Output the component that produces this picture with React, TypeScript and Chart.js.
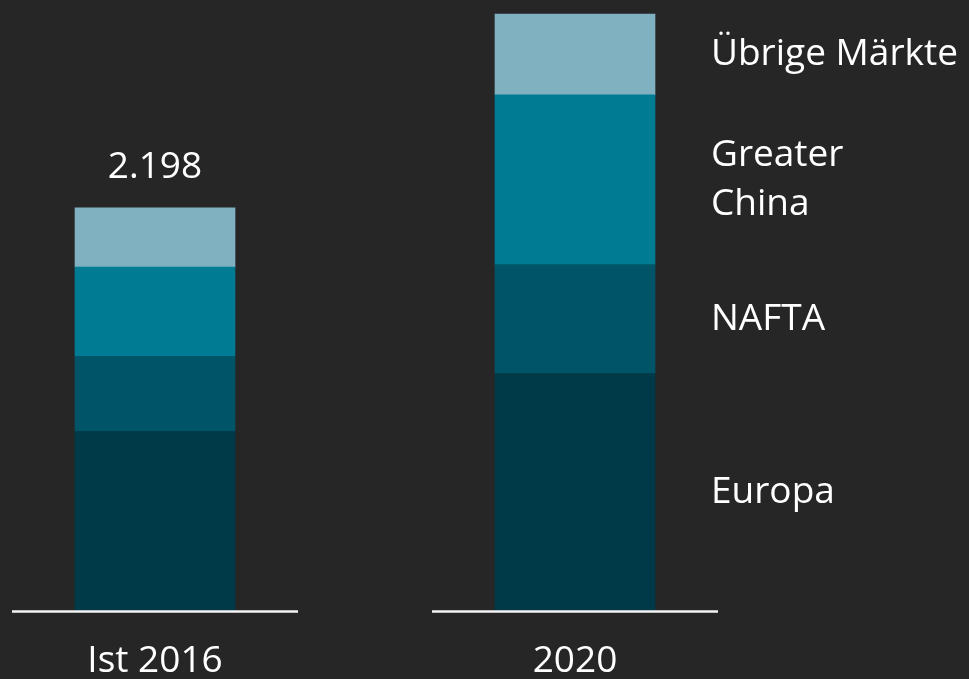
import React, { useEffect, useRef } from 'react';
import { Chart, registerables } from 'chart.js';

Chart.register(...registerables);

const categories = ['Ist 2016', '2020'];
const europa = [980, 1296];
const nafta = [410, 593];
const greaterChina = [485, 924];
const uebrigeMaerkte = [323, 441];
const totalLabels = ['2.198', ''];
const seriesLabels = [['Europa'], ['NAFTA'], ['Greater', 'China'], ['Übrige Märkte']];
const seriesColors = ['#003947', '#005468', '#007b94', '#7fb1c1'];

const FONT = '"Open Sans", "Noto Sans", sans-serif';
const FONT_SIZE = 37;
const BG = '#262626';
const TEXT = '#ffffff';

const overlay = {
  id: 'overlay',
  afterDatasetsDraw(chart: any) {
    const ctx = chart.ctx as CanvasRenderingContext2D;
    const xs = chart.scales.x;
    const ys = chart.scales.y;
    const y0 = ys.getPixelForValue(0);
    ctx.save();
    categories.forEach((cat, i) => {
      const cx = xs.getPixelForValue(i);
      ctx.strokeStyle = '#f4f4f4';
      ctx.lineWidth = 2.5;
      ctx.beginPath();
      ctx.moveTo(cx - 143, y0);
      ctx.lineTo(cx + 143, y0);
      ctx.stroke();
      ctx.fillStyle = TEXT;
      ctx.font = `${FONT_SIZE}px ${FONT}`;
      ctx.textAlign = 'center';
      ctx.textBaseline = 'middle';
      ctx.fillText(cat, cx, y0 + 50);
      const total = europa[i] + nafta[i] + greaterChina[i] + uebrigeMaerkte[i];
      if (totalLabels[i]) {
        const top = ys.getPixelForValue(total);
        ctx.fillText(totalLabels[i], cx, top - 40);
      }
    });
    const last = categories.length - 1;
    chart.data.datasets.forEach((ds: any, di: number) => {
      const bar: any = chart.getDatasetMeta(di).data[last];
      if (!bar) return;
      const mid = (bar.y + bar.base) / 2;
      const x = bar.x + bar.width / 2 + 56;
      const lines = seriesLabels[di];
      const lh = 49;
      ctx.fillStyle = TEXT;
      ctx.font = `${FONT_SIZE}px ${FONT}`;
      ctx.textAlign = 'left';
      ctx.textBaseline = 'middle';
      lines.forEach((ln, li) => {
        ctx.fillText(ln, x, mid + (li - (lines.length - 1) / 2) * lh);
      });
    });
    ctx.restore();
  },
};

export default function App() {
  const ref = useRef<HTMLCanvasElement | null>(null);
  useEffect(() => {
    document.body.style.margin = '0';
    document.body.style.background = BG;
    const canvas = ref.current!;
    const chart = new Chart(canvas, {
      type: 'bar',
      data: {
        labels: categories,
        datasets: [
          { label: 'Europa', data: europa, backgroundColor: seriesColors[0] },
          { label: 'NAFTA', data: nafta, backgroundColor: seriesColors[1] },
          { label: 'Greater China', data: greaterChina, backgroundColor: seriesColors[2] },
          { label: 'Übrige Märkte', data: uebrigeMaerkte, backgroundColor: seriesColors[3] },
        ].map((d) => ({ ...d, barThickness: 160, borderWidth: 0, clip: false as any })),
      },
      options: {
        animation: false,
        responsive: false,
        maintainAspectRatio: false,
        layout: { padding: { left: 155, right: 394, top: 0, bottom: 67.5 } },
        plugins: { legend: { display: false }, tooltip: { enabled: false } },
        scales: {
          x: { type: 'category', offset: false, display: false, stacked: true },
          y: { display: false, stacked: true, min: 0, max: 3330 },
        },
      },
      plugins: [overlay],
    });
    return () => chart.destroy();
  }, []);
  return (
    <div style={{ position: 'fixed', left: 0, top: 0, width: 969, height: 679, background: BG }}>
      <canvas ref={ref} width={969} height={679} style={{ display: 'block', width: 969, height: 679 }} />
    </div>
  );
}
